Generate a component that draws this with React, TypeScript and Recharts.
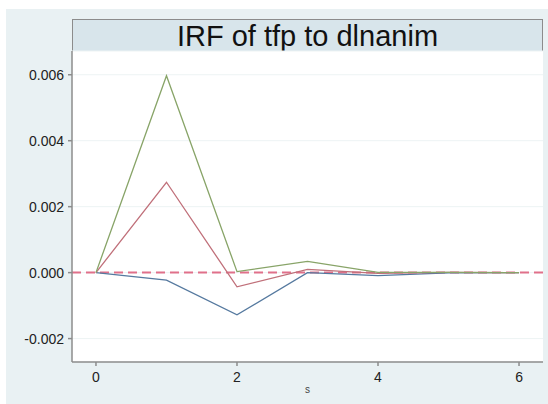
import React from 'react';
import { ComposedChart, Line, XAxis, YAxis, CartesianGrid, ReferenceLine } from 'recharts';

const steps = [0, 1, 2, 3, 4, 5, 6];
const lowerBand = [0, -0.00023, -0.00128, 0.0, -0.00009, -0.00001, 0];
const irfValues = [0, 0.00274, -0.00043, 0.0001, -0.00002, 0.00001, 0];
const upperBand = [0, 0.00597, 0.00003, 0.00034, 0.00001, 0.00001, 0];
const xTicks = [0, 2, 4, 6];
const yTicks = [-0.002, 0, 0.002, 0.004, 0.006];
const title = 'IRF of tfp to dlnanim';
const xLabel = 's';

const data = steps.map((s, i) => ({
  s,
  lower: lowerBand[i],
  irf: irfValues[i],
  upper: upperBand[i],
}));

const FONT = '"Liberation Sans", Arial, sans-serif';

export default function App() {
  return (
    <div style={{ position: 'absolute', left: 0, top: 0, width: 548, height: 404, background: '#ffffff', fontFamily: FONT }}>
      <div style={{ position: 'absolute', left: 6, top: 9, width: 542, height: 395, background: '#e9f1f3' }} />
      <div
        style={{
          position: 'absolute',
          left: 72,
          top: 19,
          width: 471,
          height: 32,
          boxSizing: 'border-box',
          background: '#d8e5eb',
          border: '1.5px solid #8c8c8c',
          borderBottom: 'none',
          textAlign: 'center',
          fontSize: 29,
          lineHeight: '32px',
          color: '#111',
          fontFamily: FONT,
        }}
      >
        {title}
      </div>
      <div style={{ position: 'absolute', left: 0, top: 0 }}>
        <ComposedChart
          width={548}
          height={404}
          data={data}
          margin={{ top: 51, right: 5, bottom: 10, left: 12 }}
        >
          <CartesianGrid horizontal={true} vertical={false} stroke="#edf3f4" fill="#ffffff" />
          <XAxis
            dataKey="s"
            type="number"
            domain={[-0.34, 6.34]}
            ticks={xTicks}
            allowDataOverflow
            stroke="#8c8c8c"
            strokeWidth={1.5}
            tickSize={4}
            tickMargin={6}
            height={32}
            tick={{ fill: '#222', fontSize: 14, fontFamily: FONT }}
            label={{ value: xLabel, position: 'insideBottom', offset: 1, fill: '#444', fontSize: 10, fontFamily: FONT }}
          />
          <YAxis
            type="number"
            domain={[-0.00271, 0.00672]}
            ticks={yTicks}
            allowDataOverflow
            width={60}
            stroke="#8c8c8c"
            strokeWidth={1.5}
            tickSize={4}
            tickMargin={4}
            tickFormatter={(v: number) => v.toFixed(3)}
            tick={{ fill: '#222', fontSize: 14, fontFamily: FONT }}
          />
          <ReferenceLine y={0} stroke="#e0708a" strokeWidth={2} strokeDasharray="9 5" />
          <Line dataKey="lower" stroke="#55799f" strokeWidth={1.3} dot={false} isAnimationActive={false} />
          <Line dataKey="irf" stroke="#c0707a" strokeWidth={1.3} dot={false} isAnimationActive={false} />
          <Line dataKey="upper" stroke="#88a468" strokeWidth={1.3} dot={false} isAnimationActive={false} />
        </ComposedChart>
      </div>
    </div>
  );
}
